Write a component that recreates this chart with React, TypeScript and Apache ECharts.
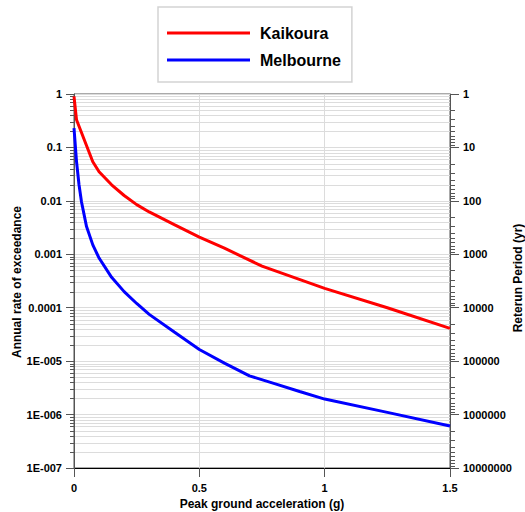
import React, { useEffect, useRef } from "react";
import * as echarts from "echarts";

// Peak ground acceleration (g) and annual rate of exceedance
const kaikouraPGA = [0, 0.01, 0.075, 0.1, 0.15, 0.2, 0.25, 0.3, 0.4, 0.5, 0.6, 0.75, 1.0, 1.25, 1.5];
const kaikouraRate = [0.9, 0.33, 0.054, 0.035, 0.02, 0.0126, 0.0085, 0.0062, 0.0036, 0.0021, 0.0013, 0.0006, 0.00023, 0.0001, 4.1e-5];

const melbournePGA = [0, 0.01, 0.02, 0.03, 0.05, 0.075, 0.1, 0.15, 0.2, 0.25, 0.3, 0.4, 0.5, 0.6, 0.7, 0.8, 0.9, 1.0, 1.25, 1.5];
const melbourneRate = [0.23, 0.055, 0.02, 0.0095, 0.0033, 0.0015, 0.00085, 0.00037, 0.0002, 0.00012, 7.5e-5, 3.5e-5, 1.65e-5, 9.2e-6, 5.3e-6, 3.8e-6, 2.7e-6, 1.95e-6, 1.1e-6, 6.1e-7];

const seriesNames = ["Kaikoura", "Melbourne"];

const rateTickLabels = ["1E-007", "1E-006", "1E-005", "0.0001", "0.001", "0.01", "0.1", "1"];
const returnPeriodTickLabels = ["1", "10", "100", "1000", "10000", "100000", "1000000", "10000000"];

const minorMantissas = [2, 3, 4, 5, 6, 7, 8, 9];
const rateDecades = [-7, -6, -5, -4, -3, -2, -1];
const periodDecades = [0, 1, 2, 3, 4, 5, 6];

const xAxisTitle = "Peak ground acceleration (g)";
const leftAxisTitle = "Annual rate of exceedance";
const rightAxisTitle = "Reterun Period (yr)";

const FONT = 'Arial, "Liberation Sans", sans-serif';

export default function App() {
  const ref = useRef<HTMLDivElement>(null);

  useEffect(() => {
    if (!ref.current) return;
    const chart = echarts.init(ref.current, null, { renderer: "svg" });

    const rateMinor: number[][] = [];
    rateDecades.forEach((e) => minorMantissas.forEach((m) => rateMinor.push([0, m * Math.pow(10, e)])));
    const periodMinor: number[][] = [];
    periodDecades.forEach((e) => minorMantissas.forEach((m) => periodMinor.push([0, m * Math.pow(10, e)])));

    const crisp = (v: number) => Math.round(v) + 0.5;
    const titleStyle = { fontFamily: FONT, fontSize: 12, fontWeight: "bold", fill: "#000", align: "center", verticalAlign: "middle" };

    chart.setOption({
      animation: false,
      textStyle: { fontFamily: FONT },
      grid: {
        left: 74,
        right: 75,
        top: 94,
        bottom: 44,
        containLabel: false,
        outerBoundsMode: "none",
        show: true,
        borderColor: "#555",
        borderWidth: 1,
        backgroundColor: "transparent",
      },
      graphic: [
        { type: "text", x: 17, y: 282, rotation: Math.PI / 2, style: { ...titleStyle, text: leftAxisTitle } },
        { type: "text", x: 518, y: 278, rotation: Math.PI / 2, style: { ...titleStyle, text: rightAxisTitle } },
      ],
      legend: {
        data: seriesNames,
        orient: "vertical",
        left: 158,
        top: 7,
        padding: [16, 11, 12, 9],
        itemGap: 7,
        itemWidth: 83,
        itemHeight: 3,
        icon: "rect",
        borderColor: "#d3d3d3",
        borderWidth: 1.5,
        backgroundColor: "#fff",
        textStyle: {
          fontFamily: FONT,
          fontSize: 16,
          fontWeight: "bold",
          color: "#000",
          lineHeight: 20,
          padding: [0, 0, 0, 5],
        },
      },
      xAxis: {
        type: "value",
        min: 0,
        max: 1.5,
        interval: 0.5,
        name: xAxisTitle,
        nameLocation: "middle",
        nameGap: 28,
        nameTextStyle: { fontFamily: FONT, fontSize: 12, fontWeight: "bold", color: "#000" },
        axisLine: { show: true, lineStyle: { color: "#000", width: 1 } },
        axisTick: { show: true, inside: false, length: 9, lineStyle: { color: "#555" } },
        axisLabel: { margin: 14, fontFamily: FONT, fontSize: 11, fontWeight: "bold", color: "#000" },
        splitLine: { show: true, lineStyle: { color: "#dcdcdc", width: 1 } },
      },
      yAxis: [
        {
          type: "log",
          logBase: 10,
          min: 1e-7,
          max: 1,
          splitNumber: 7,
          position: "left",
          axisLine: { show: true, lineStyle: { color: "#555", width: 1 } },
          axisTick: { show: true, inside: false, length: 8, lineStyle: { color: "#555" } },
          axisLabel: {
            margin: 12,
            fontFamily: FONT,
            fontSize: 11,
            fontWeight: "bold",
            color: "#000",
            formatter: (v: number) => rateTickLabels[Math.round(Math.log10(v)) + 7] ?? "",
          },
          splitLine: { show: true, lineStyle: { color: "#dcdcdc", width: 1 } },
          minorTick: { show: false },
        },
        {
          type: "log",
          logBase: 10,
          min: 1,
          max: 1e7,
          splitNumber: 7,
          inverse: true,
          position: "right",
          axisLine: { show: true, lineStyle: { color: "#555", width: 1 } },
          axisTick: { show: true, inside: false, length: 9, lineStyle: { color: "#555" } },
          axisLabel: {
            margin: 13,
            fontFamily: FONT,
            fontSize: 11,
            fontWeight: "bold",
            color: "#000",
            formatter: (v: number) => returnPeriodTickLabels[Math.round(Math.log10(v))] ?? "",
          },
          splitLine: { show: false },
        },
      ],
      series: [
        {
          type: "custom",
          name: "rateMinor",
          xAxisIndex: 0,
          yAxisIndex: 0,
          silent: true,
          z: 1,
          clip: false,
          data: rateMinor,
          renderItem: (params: any, api: any) => {
            const p = api.coord([0, api.value(1)]);
            const cs = params.coordSys;
            const y = crisp(p[1]);
            return {
              type: "group",
              children: [
                { type: "line", shape: { x1: cs.x + 1, y1: y, x2: cs.x + cs.width, y2: y }, style: { stroke: "#dcdcdc", lineWidth: 1 } },
                { type: "line", shape: { x1: cs.x - 4, y1: y, x2: cs.x, y2: y }, style: { stroke: "#555", lineWidth: 1 } },
              ],
            };
          },
        },
        {
          type: "custom",
          name: "periodMinor",
          xAxisIndex: 0,
          yAxisIndex: 1,
          silent: true,
          z: 1,
          clip: false,
          data: periodMinor,
          renderItem: (params: any, api: any) => {
            const p = api.coord([0, api.value(1)]);
            const cs = params.coordSys;
            const y = crisp(p[1]);
            const x0 = cs.x + cs.width;
            return { type: "line", shape: { x1: x0, y1: y, x2: x0 + 5, y2: y }, style: { stroke: "#555", lineWidth: 1 } };
          },
        },
        {
          type: "line",
          name: seriesNames[0],
          yAxisIndex: 0,
          data: kaikouraPGA.map((x, i) => [x, kaikouraRate[i]]),
          showSymbol: false,
          symbol: "none",
          z: 5,
          lineStyle: { color: "#ff0000", width: 3 },
          itemStyle: { color: "#ff0000" },
        },
        {
          type: "line",
          name: seriesNames[1],
          yAxisIndex: 0,
          data: melbournePGA.map((x, i) => [x, melbourneRate[i]]),
          showSymbol: false,
          symbol: "none",
          z: 5,
          lineStyle: { color: "#0000ff", width: 3 },
          itemStyle: { color: "#0000ff" },
        },
      ],
    });

    return () => chart.dispose();
  }, []);

  return (
    <div
      ref={ref}
      style={{ position: "fixed", left: 0, top: 0, width: 525, height: 512, background: "#fff" }}
    />
  );
}
